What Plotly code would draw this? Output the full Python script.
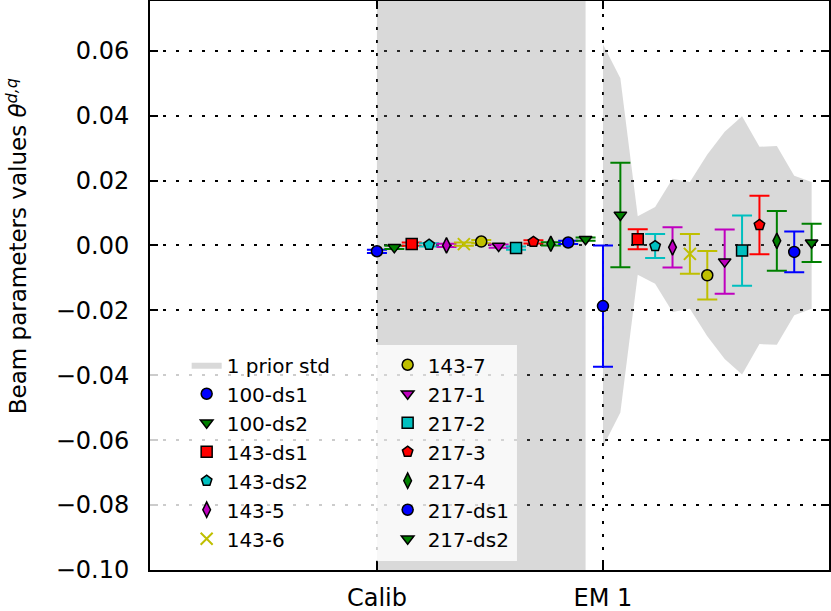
import plotly.graph_objects as go

# ---------------- data ----------------
groups = ["Calib", "EM 1"]
series = ["100-ds1", "100-ds2", "143-ds1", "143-ds2", "143-5", "143-6", "143-7",
          "217-1", "217-2", "217-3", "217-4", "217-ds1", "217-ds2"]

calib_values = [-0.0018, -0.0006, 0.0004, 0.0002, 0.0000, 0.0004, 0.0012,
                -0.0002, -0.0008, 0.0011, 0.0005, 0.0009, 0.0019]
calib_errors = [0.0005, 0.0005, 0.0005, 0.0005, 0.0005, 0.0005, 0.0005,
                0.0005, 0.0005, 0.0005, 0.0005, 0.0005, 0.0005]
em1_values = [-0.0187, 0.0094, 0.0019, -0.0002, -0.0006, -0.0026, -0.0092,
              -0.0050, -0.0016, 0.0063, 0.0014, -0.0020, 0.0008]
em1_errors = [0.0187, 0.0161, 0.0031, 0.0037, 0.0062, 0.0061, 0.0075,
              0.0099, 0.0108, 0.0090, 0.0092, 0.0063, 0.0059]

# prior std per series (Calib prior is much wider than the axis range)
calib_prior_std = [1.0, 1.0, 1.0, 1.0, 1.0, 1.0, 1.0, 1.0, 1.0, 1.0, 1.0, 1.0, 1.0]
em1_prior_std = [0.062, 0.0515, 0.009, 0.0118, 0.0205, 0.0195, 0.028,
                 0.035, 0.0398, 0.0304, 0.0306, 0.0215, 0.0195]

y_ticks = [-0.10, -0.08, -0.06, -0.04, -0.02, 0.00, 0.02, 0.04, 0.06]

# ---------------- style ----------------
colors = ["#0000ff", "#008000", "#ff0000", "#00bfbf", "#bf00bf", "#bfbf00", "#bfbf00",
          "#bf00bf", "#00bfbf", "#ff0000", "#008000", "#0000ff", "#008000"]
symbols = ["circle", "triangle-down", "square", "pentagon", "diamond-tall", "x-thin",
           "circle", "triangle-down", "square", "pentagon", "diamond-tall", "circle",
           "triangle-down"]

values_by_group = [calib_values, em1_values]
errors_by_group = [calib_errors, em1_errors]
std_by_group = [calib_prior_std, em1_prior_std]

n = len(series)
step = 1.0 / n
FONT = "DejaVu Sans"

fig = go.Figure()

# prior std bands
for g, stds in enumerate(std_by_group):
    xs = [g + i * step for i in range(n)]
    fig.add_trace(go.Scatter(
        x=xs + xs[::-1],
        y=stds + [-s for s in stds[::-1]],
        fill="toself", fillcolor="rgba(128,128,128,0.3)",
        line=dict(width=0), mode="lines",
        name="1 prior std", legendgroup="prior", showlegend=(g == 0),
        legend="legend", hoverinfo="skip",
    ))

# series
for i, name in enumerate(series):
    xs = [g + i * step for g in range(len(groups))]
    ys = [values_by_group[g][i] for g in range(len(groups))]
    es = [errors_by_group[g][i] for g in range(len(groups))]
    is_x = symbols[i] == "x-thin"
    fig.add_trace(go.Scatter(
        x=xs, y=ys, mode="markers", name=name,
        legend="legend" if i < 6 else "legend2",
        error_y=dict(type="data", array=es, color=colors[i], thickness=2, width=10),
        marker=dict(symbol=symbols[i], size=11 if not is_x else 12,
                    color=colors[i],
                    line=dict(color=colors[i] if is_x else "black",
                              width=2 if is_x else 1.5)),
    ))

axis_common = dict(
    showline=True, linecolor="black", linewidth=2, mirror="allticks",
    ticks="inside", ticklen=8, tickwidth=2, tickcolor="black",
    showgrid=True, gridcolor="black", gridwidth=2, griddash="3px,10px",
    zeroline=False, automargin=False,
    tickfont=dict(family=FONT, size=24, color="black"),
)

fig.update_xaxes(range=[-1.004, 2.0], tickmode="array", tickvals=list(range(len(groups))),
                 ticktext=groups, ticklabelstandoff=5, **axis_common)
fig.update_yaxes(range=[-0.10, 0.0753], tickmode="array", tickvals=y_ticks,
                 ticktext=[("−" if v < 0 else "") + f"{abs(v):.2f}" for v in y_ticks],
                 ticklabelstandoff=14, **axis_common)

legend_common = dict(bgcolor="rgba(0,0,0,0)", borderwidth=0,
                     font=dict(family=FONT, size=20, color="black"),
                     xanchor="left", yanchor="top", tracegroupgap=0)

fig.update_layout(
    width=831, height=611,
    margin=dict(l=150, r=2, t=1, b=41),
    plot_bgcolor="white", paper_bgcolor="white",
    legend=dict(x=0.054, y=0.395, **legend_common),
    legend2=dict(x=0.35, y=0.395, **legend_common),
    shapes=[dict(type="rect", xref="paper", yref="paper", x0=0, x1=0.5405,
                 y0=0.0158, y1=0.3954, fillcolor="rgba(255,255,255,0.8)",
                 line=dict(width=0), layer="above")],
    annotations=[dict(text="Beam parameters values <i>θ</i><sup><i>d,q</i></sup>",
                      xref="paper", yref="paper", x=-0.196, y=0.569,
                      xanchor="center", yanchor="middle", textangle=-90,
                      showarrow=False, font=dict(family=FONT, size=23, color="black"))],
)

fig.write_html("out.html", config={"displayModeBar": False},
               post_script="document.body.style.margin='0';document.body.style.overflow='hidden';")
